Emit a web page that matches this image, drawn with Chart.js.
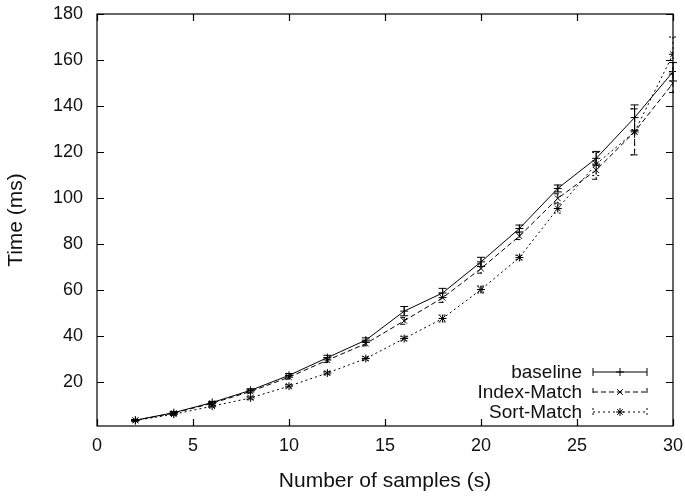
<!DOCTYPE html>
<html>
<head>
<meta charset="utf-8">
<script src="https://cdn.jsdelivr.net/npm/chart.js@4/dist/chart.umd.min.js"></script>
<style>
  html, body { margin: 0; padding: 0; background: #fff; }
  #wrap { width: 685px; height: 496px; }
</style>
</head>
<body>
<div id="wrap"><canvas id="chart"></canvas></div>
<script>
const samples = [2, 4, 6, 8, 10, 12, 14, 16, 18, 20, 22, 24, 26, 28, 30];

const baseline    = [3.5, 6.8, 11.2, 16.5, 23.0, 30.7, 38.3, 50.9, 58.8, 72.3, 86.8, 104.2, 117.3, 135.0, 154.9];
const baselineErr = [0.3, 0.5, 0.5, 0.7, 0.8, 1.0, 1.0, 2.0, 2.0, 2.0, 1.5, 1.5, 3.0, 5.5, 4.0];

const indexMatch    = [3.5, 6.6, 10.9, 16.0, 22.2, 29.6, 36.8, 46.7, 56.7, 69.4, 83.5, 99.9, 112.2, 128.8, 149.9];
const indexMatchErr = [0.3, 0.5, 0.5, 0.7, 0.8, 1.0, 1.0, 1.5, 2.0, 2.0, 1.5, 2.0, 4.0, 10.0, 4.0];

const sortMatch    = [3.4, 6.1, 9.6, 13.2, 18.3, 24.0, 30.3, 39.0, 47.7, 60.3, 74.2, 95.5, 114.8, 128.8, 162.5];
const sortMatchErr = [0.3, 0.5, 0.5, 0.7, 0.8, 0.7, 0.8, 1.0, 1.5, 1.5, 1.0, 2.0, 5.0, 10.0, 7.5];

const seriesNames = ['baseline', 'Index-Match', 'Sort-Match'];
const xTicks = [0, 5, 10, 15, 20, 25, 30];
const yTicks = [20, 40, 60, 80, 100, 120, 140, 160, 180];

const FONT = 'Liberation Sans, Arial, Helvetica, sans-serif';

function toPoints(vals) {
  return samples.map((s, i) => ({ x: s, y: vals[i] }));
}

const errors = [baselineErr, indexMatchErr, sortMatchErr];
const values = [baseline, indexMatch, sortMatch];

// error bars, drawn with the chart's own scales
const errorBars = {
  id: 'errorBars',
  afterDatasetsDraw(chart) {
    const ctx = chart.ctx;
    const xs = chart.scales.x, ys = chart.scales.y;
    chart.data.datasets.forEach((ds, d) => {
      ctx.save();
      ctx.strokeStyle = '#000';
      ctx.lineWidth = 1;
      ctx.setLineDash(ds.borderDash || []);
      samples.forEach((s, i) => {
        const px = xs.getPixelForValue(s);
        const top = ys.getPixelForValue(values[d][i] + errors[d][i]);
        const bot = ys.getPixelForValue(values[d][i] - errors[d][i]);
        ctx.beginPath();
        ctx.moveTo(px, top); ctx.lineTo(px, bot);
        ctx.moveTo(px - 4, top); ctx.lineTo(px + 4, top);
        ctx.moveTo(px - 4, bot); ctx.lineTo(px + 4, bot);
        ctx.stroke();
      });
      ctx.restore();
    });
  }
};

// border box with inward mirrored ticks, gnuplot style
const frame = {
  id: 'frame',
  afterDraw(chart) {
    const ctx = chart.ctx;
    const a = chart.chartArea;
    const xs = chart.scales.x, ys = chart.scales.y;
    ctx.save();
    ctx.strokeStyle = '#000';
    ctx.lineWidth = 1.2;
    ctx.strokeRect(a.left, a.top, a.right - a.left, a.bottom - a.top);
    ctx.beginPath();
    xTicks.forEach(v => {
      const px = Math.round(xs.getPixelForValue(v)) + 0.5;
      ctx.moveTo(px, a.bottom); ctx.lineTo(px, a.bottom - 7);
      ctx.moveTo(px, a.top); ctx.lineTo(px, a.top + 7);
    });
    yTicks.forEach(v => {
      const py = Math.round(ys.getPixelForValue(v)) + 0.5;
      ctx.moveTo(a.left, py); ctx.lineTo(a.left + 7, py);
      ctx.moveTo(a.right, py); ctx.lineTo(a.right - 7, py);
    });
    ctx.stroke();
    ctx.restore();
  }
};

// key in the lower right corner, text right aligned then sample line
const keyBox = {
  id: 'keyBox',
  afterDraw(chart) {
    const ctx = chart.ctx;
    ctx.save();
    ctx.font = '19px ' + FONT;
    ctx.fillStyle = '#111';
    ctx.textAlign = 'right';
    ctx.textBaseline = 'middle';
    chart.data.datasets.forEach((ds, d) => {
      const y = 372 + d * 20;
      ctx.fillText(ds.label, 582, y + 1);
      const x0 = 593, x1 = 647;
      ctx.strokeStyle = '#000';
      ctx.lineWidth = 1;
      ctx.setLineDash(ds.borderDash || []);
      ctx.beginPath();
      ctx.moveTo(x0, y); ctx.lineTo(x1, y);
      ctx.moveTo(x0, y - 4); ctx.lineTo(x0, y + 4);
      ctx.moveTo(x1, y - 4); ctx.lineTo(x1, y + 4);
      ctx.stroke();
      ctx.setLineDash([]);
      const mx = (x0 + x1) / 2;
      Chart.helpers.drawPoint(ctx, { pointStyle: ds.pointStyle, radius: 4, borderWidth: 1 }, mx, y);
    });
    ctx.restore();
  }
};

const ctx = document.getElementById('chart').getContext('2d');
const chart = new Chart(ctx, {
  type: 'scatter',
  data: {
    datasets: [
      { label: seriesNames[0], data: toPoints(baseline), pointStyle: 'cross', borderDash: [] },
      { label: seriesNames[1], data: toPoints(indexMatch), pointStyle: 'crossRot', borderDash: [5, 3] },
      { label: seriesNames[2], data: toPoints(sortMatch), pointStyle: 'star', borderDash: [2, 3] }
    ].map(ds => Object.assign(ds, {
      showLine: true,
      borderColor: '#000',
      backgroundColor: '#000',
      borderWidth: 1,
      pointRadius: 4,
      pointBorderWidth: 1,
      pointBorderColor: '#000',
      tension: 0
    }))
  },
  options: {
    responsive: true,
    maintainAspectRatio: false,
    animation: false,
    layout: { padding: { top: 14, right: 12, left: 0, bottom: 0 } },
    plugins: {
      legend: { display: false },
      tooltip: { enabled: false }
    },
    scales: {
      x: {
        type: 'linear',
        min: 0, max: 30,
        afterBuildTicks: s => { s.ticks = xTicks.map(v => ({ value: v })); },
        afterFit: s => { s.height = 70; s.paddingLeft = 0; s.paddingRight = 0; },
        grid: { display: false, drawTicks: false },
        border: { display: false },
        ticks: { color: '#111', font: { family: FONT, size: 18 }, padding: 9 },
        title: { display: true, text: 'Number of samples (s)', color: '#111', font: { family: FONT, size: 21 }, padding: { top: 0, bottom: 2 } }
      },
      y: {
        type: 'linear',
        min: 1, max: 180,
        afterBuildTicks: s => { s.ticks = yTicks.map(v => ({ value: v })); },
        afterFit: s => { s.width = 97; s.paddingTop = 0; s.paddingBottom = 0; },
        grid: { display: false, drawTicks: false },
        border: { display: false },
        ticks: { color: '#111', font: { family: FONT, size: 18 }, padding: 14 },
        title: { display: true, text: 'Time (ms)', color: '#111', font: { family: FONT, size: 21 }, padding: { top: 4, bottom: 0 } }
      }
    }
  },
  plugins: [errorBars, frame, keyBox]
});
</script>
</body>
</html>
